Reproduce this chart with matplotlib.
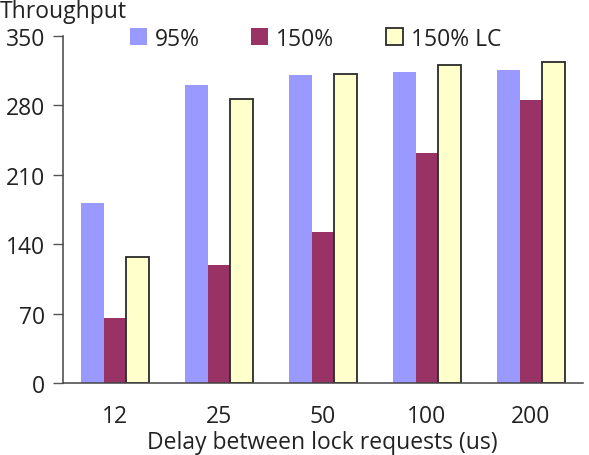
import matplotlib.pyplot as plt
import numpy as np

plt.rcParams['font.family'] = ['Open Sans', 'DejaVu Sans']

categories = ["12", "25", "50", "100", "200"]
series_names = ["95%", "150%", "150% LC"]
vals_95 = [182, 301, 311, 314, 316]
vals_150 = [66, 119, 152, 232, 285]
vals_150lc = [127, 287, 312, 321, 324]
y_ticks = [0, 70, 140, 210, 280, 350]

colors = ["#9999FF", "#993366", "#FFFFCC"]
edges = ["#9999FF", "#993366", "#2b2b2b"]
W, H = 589, 456
fs = 16.5

fig = plt.figure(figsize=(W / 100, H / 100), dpi=100)
ax = fig.add_axes([63 / W, 71.7 / H, 520 / W, 347.3 / H])

x = np.arange(len(categories))
w = 0.221
bars = []
for i, vals in enumerate([vals_95, vals_150, vals_150lc]):
    b = ax.bar(x + (i - 1) * w, vals, w, color=colors[i], edgecolor=edges[i],
               linewidth=1.3 if i == 2 else 0, zorder=2)
    bars.append(b)

ax.set_xlim(-0.5, len(categories) - 0.5)
ax.set_ylim(0, 350)
ax.set_yticks(y_ticks)
ax.set_xticks(x)
ax.set_xticklabels(categories)
ax.tick_params(axis='x', length=0, pad=15, labelsize=fs, labelcolor='#222222')
ax.tick_params(axis='y', length=7, width=1, direction='out', pad=6, labelsize=fs,
               labelcolor='#222222', color='#555555')
for s in ['top', 'right']:
    ax.spines[s].set_visible(False)
for s in ['left', 'bottom']:
    ax.spines[s].set_linewidth(1.1)
    ax.spines[s].set_color('#444444')

fig.text(322 / W, 0.5 / H, "Delay between lock requests (us)", fontsize=fs,
         ha='center', va='bottom', color='#222222')
fig.text(0, 1 - 0 / H, "Throughput", fontsize=fs, va='top', ha='left', color='#222222')

# legend entries placed one by one, like the spreadsheet layout
leg_x = [130, 251, 386]
for i, name in enumerate(series_names):
    leg = fig.legend([bars[i]], [name], loc='center left',
                     bbox_to_anchor=(leg_x[i] / W, 1 - 39.5 / H), frameon=False,
                     fontsize=fs, handlelength=0.75, handleheight=0.75, handletextpad=0.35,
                     borderaxespad=0, borderpad=0, labelcolor='#222222')

fig.savefig("out.png", dpi=100)
